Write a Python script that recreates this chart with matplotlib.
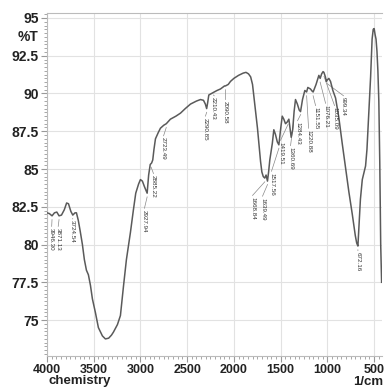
import numpy as np
import matplotlib
matplotlib.use("Agg")
import matplotlib.pyplot as plt
from matplotlib.ticker import MultipleLocator

plt.rcParams['font.family'] = ['Liberation Sans', 'DejaVu Sans']

# spectrum (wavenumber 1/cm, %T)
wn = [4000, 3975, 3946, 3920, 3895, 3871, 3845, 3815, 3790, 3770, 3745, 3724,
      3700, 3685, 3665, 3645, 3621, 3600, 3578, 3557, 3535, 3514, 3482, 3450,
      3407, 3375, 3340, 3310, 3289, 3246, 3214, 3182, 3150, 3107, 3075, 3050,
      3020, 3000, 2979, 2955, 2928, 2912, 2895, 2880, 2868, 2855, 2839, 2810,
      2786, 2750, 2723, 2679, 2620, 2571, 2520, 2464, 2400, 2357, 2325, 2305,
      2291, 2280, 2268, 2240, 2210, 2180, 2143, 2100, 2090, 2060, 2036, 2000,
      1950, 1900, 1870, 1843, 1820, 1800, 1789, 1770, 1747, 1730, 1714, 1700,
      1685, 1669, 1655, 1640, 1628, 1615, 1600, 1588, 1572, 1555, 1535, 1518,
      1500, 1482, 1465, 1447, 1430, 1411, 1398, 1386, 1370, 1355, 1340, 1320,
      1300, 1286, 1265, 1240, 1221, 1208, 1180, 1161, 1151, 1120, 1090, 1076,
      1060, 1045, 1036, 1020, 1010, 999, 983, 965, 940, 911, 876, 840, 804,
      769, 732, 700, 685, 672, 660, 645, 625, 605, 590, 575, 555, 536, 520,
      508, 498, 488, 478, 468, 458, 448, 438, 428, 418]
trans = [82.1, 82.05, 81.9, 82.1, 82.15, 81.9, 81.95, 82.3, 82.75, 82.7, 82.2, 81.95,
         82.1, 82.1, 81.6, 80.9, 80.0, 79.0, 78.3, 78.0, 77.3, 76.4, 75.5, 74.5,
         73.95, 73.75, 73.8, 74.0, 74.2, 74.7, 75.3, 77.2, 79.0, 80.8, 82.3, 83.4,
         84.0, 84.3, 84.2, 83.8, 83.4, 84.6, 85.3, 85.4, 85.6, 86.3, 87.0, 87.4,
         87.7, 87.9, 88.0, 88.3, 88.5, 88.7, 89.0, 89.3, 89.5, 89.6, 89.55, 89.3,
         89.0, 89.4, 89.9, 90.0, 90.1, 90.2, 90.3, 90.5, 90.5, 90.6, 90.8, 91.0,
         91.2, 91.35, 91.4, 91.3, 91.1, 90.6, 90.0, 89.0, 87.7, 86.6, 85.5, 84.8,
         84.5, 84.4, 84.6, 84.2, 84.8, 85.6, 86.2, 86.7, 87.6, 87.3, 86.8, 86.6,
         87.6, 88.5, 88.3, 88.0, 88.1, 88.3, 87.7, 87.1, 87.6, 88.8, 89.6, 89.3,
         88.9, 88.8, 89.6, 90.2, 90.1, 90.4, 90.3, 90.15, 90.1, 90.6, 91.2, 91.0,
         91.3, 91.45, 91.4, 91.1, 90.8, 90.9, 91.0, 90.8, 90.2, 89.7, 88.4, 86.7, 85.1,
         83.5, 82.0, 80.6, 80.1, 79.9, 81.3, 83.0, 84.3, 84.8, 85.2, 86.3, 88.8, 91.1, 93.6,
         94.25, 94.3, 93.9, 93.6, 92.8, 91.5, 89.5, 85.5, 80.0, 77.5]

# peak labels
peak_wn = [3946.30, 3871.13, 3724.54, 2927.94, 2885.22, 2723.49, 2290.85,
           2210.43, 2090.58, 1668.84, 1639.49, 1517.56, 1419.51, 1360.69,
           1284.43, 1220.88, 1151.55, 1076.21, 1035.09, 999.34, 672.16]
label_x = [3950, 3880, 3728, 2957, 2860, 2752, 2304, 2218, 2090, 1800, 1693,
           1597, 1500, 1393, 1318, 1200, 1125, 1018, 922, 826, 672]
label_top = [81.1, 81.1, 81.6, 82.3, 84.6, 87.1, 88.4, 89.8, 89.5, 83.15, 83.1,
             84.75, 86.8, 86.45, 88.1, 87.6, 89.1, 89.25, 89.1, 89.75, 79.5]

fig = plt.figure(figsize=(3.84, 3.88), dpi=100)
ax = fig.add_axes([0.1224, 0.0825, 0.8724, 0.884])

ax.plot(wn, trans, color='#5a5a5a', lw=1.1, zorder=3)

for p, lx, lt in zip(peak_wn, label_x, label_top):
    py = np.interp(p, wn[::-1], trans[::-1])
    ax.plot([p, lx], [py - 0.25, lt + 0.1], color='#888888', lw=0.5, zorder=2)
    ax.text(lx, lt, f"{p:.2f}", rotation=-90, ha='center', va='top',
            fontsize=4.5, color='#333333', zorder=4)

ax.set_xlim(4000, 414)
ax.set_ylim(72.62, 95.33)
ax.xaxis.set_major_locator(MultipleLocator(500))
ax.xaxis.set_minor_locator(MultipleLocator(50))
ax.yaxis.set_minor_locator(MultipleLocator(0.25))
ax.set_yticks(np.arange(75, 95.1, 2.5))
ax.set_yticklabels(['75', '77.5', '80', '82.5', '85', '87.5', '90', '92.5', '95'])

ax.grid(True, which='major', color='#e2e2e2', lw=0.8)
ax.set_axisbelow(True)
for s in ax.spines.values():
    s.set_color('#bbbbbb')
    s.set_linewidth(0.8)
ax.spines['right'].set_visible(False)

ax.tick_params(which='both', color='#999999', pad=2)
ax.tick_params(axis='x', labelsize=9)
ax.tick_params(axis='y', labelsize=10)
ax.tick_params(which='major', length=4)
ax.tick_params(which='minor', length=2.5)
for t in ax.get_xticklabels() + ax.get_yticklabels():
    t.set_fontweight('bold')
    t.set_color('#222222')

fig.text(0.099, 1 - 37 / 388, '%T', ha='right', va='center', fontsize=10,
         fontweight='bold', color='#222222')
fig.text(80 / 384, 1 - 381 / 388, 'chemistry', ha='center', va='center',
         fontsize=9.5, fontweight='bold', color='#222222')
fig.text(383 / 384, 1 - 382 / 388, '1/cm', ha='right', va='center',
         fontsize=9.5, fontweight='bold', color='#222222')

fig.savefig('out.png', dpi=100)
